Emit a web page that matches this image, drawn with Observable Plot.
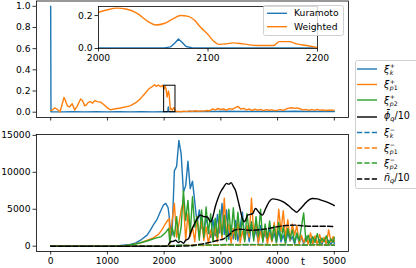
<!DOCTYPE html>
<html><head><meta charset="utf-8">
<script src="https://cdn.jsdelivr.net/npm/d3@7"></script>
<script src="https://cdn.jsdelivr.net/npm/@observablehq/plot@0.6"></script>
<style>
html,body{margin:0;padding:0;background:#fff;}
#chart{position:relative;width:416px;height:268px;overflow:hidden;font-family:"DejaVu Sans",sans-serif;color:#000;}
#chart svg{position:absolute;left:0;top:0;}
.legend{position:absolute;background:rgba(255,255,255,0.8);border:0.8px solid #d0d0d0;border-radius:2.5px;box-sizing:border-box;}
.lab{position:absolute;white-space:nowrap;font-size:9.2px;line-height:1;transform:translateY(-50%);}
.m{font-size:9.6px;}
.ss{display:inline-block;vertical-align:middle;font-size:6.2px;margin-left:0.5px;}
.ss span{display:block;line-height:1.05;}
.sb{font-size:6.6px;vertical-align:-2px;}
</style></head><body><div id="chart"></div><script>
// ---------- data ----------
const xTicks = [0, 1000, 2000, 3000, 4000, 5000];
const topYTicks = [0, 0.2, 0.4, 0.6, 0.8, 1.0];
const botYTicks = [0, 5000, 10000, 15000];
const insetXTicks = [2000, 2100, 2200];
const insetYTicks = [0, 0.2];
const insetBox = {x1: 2000, x2: 2200, y1: 0, y2: 0.25};
const topLegendLabels = ["Kuramoto", "Weighted"];

// top panel: Kuramoto
const kurT = [0,5,200,400,600,800,1000,1200,1400,1600,1800,2000,2060,2066,2070,2073,2076,2080,2086,2100,2300,2500,2700,2900,3100,3300,3500,3700,3900,4100,4300,4500,4700,4900,5000];
const kurV = [1.0,0.004,0.003,0.004,0.003,0.004,0.003,0.004,0.003,0.004,0.003,0.004,0.004,0.01,0.035,0.05,0.035,0.01,0.004,0.004,0.005,0.006,0.008,0.007,0.009,0.007,0.008,0.006,0.008,0.007,0.009,0.007,0.006,0.007,0.006];
// top panel: Weighted
const wPreT = [0,30,70,110,165,200,235,260,293,330,380,423,470,528,560,600,630,657,700,740,775,820,880,940,1000,1056,1120,1230,1400,1500,1585,1650,1730,1800,1830,1860,1900,1940,1970,2000,2017,2035,2052,2068,2075,2088,2100,2110,2123,2145,2165,2174,2190,2200];
const wPreV = [0.016,0.02,0.04,0.03,0.002,0.07,0.14,0.11,0.06,0.05,0.08,0.02,0.06,0.125,0.11,0.06,0.07,0.09,0.1,0.085,0.11,0.1,0.095,0.07,0.04,0.022,0.03,0.04,0.06,0.09,0.128,0.17,0.22,0.245,0.26,0.245,0.255,0.24,0.255,0.22,0.245,0.215,0.143,0.18,0.2,0.17,0.085,0.025,0.034,0.018,0.042,0.042,0.018,0.006];
const wNoiseT = d3.range(2250, 5001, 50);
const wNoiseV = [0.008,0.004,0.01,0.006,0.012,0.008,0.014,0.009,0.013,0.01,
0.016,0.012,0.03,0.022,0.035,0.025,0.03,0.02,0.034,0.028,
0.04,0.055,0.03,0.036,0.022,0.03,0.018,0.028,0.02,0.026,
0.015,0.024,0.018,0.022,0.015,0.02,0.024,0.018,0.03,0.038,
0.042,0.036,0.04,0.03,0.022,0.026,0.018,0.024,0.02,0.026,
0.018,0.022,0.016,0.02,0.018,0.02];

// inset
const insetWT = [2000,2008,2017,2025,2035,2045,2052,2060,2068,2075,2082,2088,2093,2100,2105,2110,2117,2123,2132,2145,2160,2165,2174,2181,2190,2198,2200];
const insetWV = [0.22,0.235,0.245,0.24,0.215,0.165,0.143,0.152,0.18,0.2,0.195,0.17,0.13,0.085,0.045,0.025,0.028,0.034,0.028,0.018,0.018,0.042,0.042,0.028,0.018,0.008,0.006];
const insetKT = [2000,2020,2040,2060,2066,2070,2073,2076,2080,2086,2110,2140,2170,2200];
const insetKV = [0.003,0.004,0.003,0.004,0.01,0.035,0.058,0.04,0.012,0.004,0.003,0.004,0.003,0.003];

// bottom panel
const burstT = d3.range(2100, 4981, 40).concat([5000]);
const kPlusPreT = [0,1000,1200,1400,1500,1600,1700,1760,1820,1880,1940,1990,2030,2070,2090];
const kPlusPreV = [0,0,60,250,450,900,1500,2200,3000,3700,4800,5600,5800,5200,4000];
const kPlusBurst = [3000,1500,10200,10800,14300,12500,7300,8200,11500,7800,
8800,6000,3100,4900,2600,1700,4000,2200,1200,3600,
1400,4300,1800,5800,1600,4900,900,2800,1000,3500,
700,2600,4600,900,2400,600,3000,1100,2200,500,
2800,800,1900,600,2400,700,1800,500,2100,600,
1500,400,1900,700,1300,300,1600,500,1200,300,
1400,400,1000,300,1100,400,900,200,1000,300,
800,200,900,400];
const p1PlusPreT = [0,1200,1400,1600,1800,1900,1960,2020,2060,2090];
const p1PlusPreV = [0,0,150,500,1100,1600,2200,3000,3500,3700];
const p1PlusBurst = [300,3500,5800,1200,3000,4900,6000,800,4400,1300,
2600,600,4000,1200,3500,800,2600,300,2200,800,
2600,600,3800,1000,6500,1500,3000,400,2400,1000,
3200,500,2000,800,2800,1200,6500,1500,3500,400,
2000,800,2600,300,1800,600,3200,900,5000,2000,
4800,1000,3600,800,3000,1500,2800,300,1500,500,
1200,300,1800,400,1400,200,1600,500,1200,300,
2200,600,1300,700];
const p2PlusPreT = [0,1100,1300,1500,1700,1850,1950,2030,2080];
const p2PlusPreV = [0,0,80,300,700,1100,1300,1900,2400];
const p2PlusBurst = [400,2600,1300,4000,800,2600,7500,3500,6200,1700,
6700,2600,4000,800,4900,1200,5300,1700,4400,600,
3800,1200,4900,1500,4200,700,5000,1400,5200,900,
4600,1300,3900,600,4400,1800,3300,700,4000,1300,
5000,500,3000,1100,3400,800,2800,500,3200,900,
2600,400,2400,1000,2200,500,1800,700,2600,4500,
600,1500,300,1300,500,1700,300,1100,600,1400,
300,1000,500,1200];
const phiT = [0,2000,2060,2110,2160,2200,2250,2290,2340,2380,2430,2470,2520,2580,2640,2700,2760,2820,2860,2900,2950,3000,3050,3100,3140,3180,3220,3260,3300,3340,3380,3410,3440,3470,3520,3560,3610,3670,3730,3790,3850,3910,4000,4100,4190,4280,4336,4380,4430,4500,4560,4620,4700,4780,4860,4950,5000];
const phiV = [0,0,50,600,650,800,500,650,400,800,1000,1900,2800,3700,4200,4000,3950,3300,4000,5300,6500,7400,8000,8500,8400,8600,8100,7500,6300,5000,3700,3300,3600,4200,4300,4400,5100,4600,4200,5100,6000,6400,6300,6000,5500,4900,4600,4900,5300,5900,6300,6450,6400,6200,6000,5700,5500];
const minusT = [0,1000,2000,2100,2300,2500,2700,2900,3100,3300,3500,3700,3900,4100,4300,4500,4700,4900,5000];
const kMinusV = [0,0,0,50,150,100,200,150,250,200,150,250,200,150,200,150,200,150,150];
const p1MinusV = [0,0,0,30,100,150,100,200,150,250,200,150,200,250,150,200,150,200,150];
const p2MinusV = [0,0,0,40,120,80,180,120,200,150,250,180,150,200,180,150,200,150,120];
const nT = [0,2000,2200,2450,2550,2700,2850,2950,3050,3150,3250,3350,3450,3550,3700,3850,4000,4150,4300,4450,4600,4800,5000];
const nV = [0,0,0,50,150,350,600,800,1000,1600,2200,2300,2200,2150,2250,2400,2650,2800,2850,2750,2700,2700,2650];

// ---------- build ----------
const blue = "#1f77b4", orange = "#ff7f0e", green = "#2ca02c";
const pairs = (T, V) => T.map((t, i) => ({t, v: V[i]})).filter(d => d.v != null);
const kuramoto = pairs(kurT, kurV);
const weighted = pairs(wPreT, wPreV).concat(pairs(wNoiseT, wNoiseV));
const insetW = pairs(insetWT, insetWV);
const insetK = pairs(insetKT, insetKV);
const kPlus = pairs(kPlusPreT, kPlusPreV).concat(pairs(burstT, kPlusBurst));
const p1Plus = pairs(p1PlusPreT, p1PlusPreV).concat(pairs(burstT, p1PlusBurst));
const p2Plus = pairs(p2PlusPreT, p2PlusPreV).concat(pairs(burstT, p2PlusBurst));
const phi = pairs(phiT, phiV);
const kMinus = pairs(minusT, kMinusV), p1Minus = pairs(minusT, p1MinusV), p2Minus = pairs(minusT, p2MinusV);
const nq = pairs(nT, nV);

const lw = 1.4, dash = "5.2,2.2";
const style = {fontFamily: "DejaVu Sans", fontSize: "9.2px", background: "none", color: "black", overflow: "visible"};
const axisOpts = {tickSize: 3.5, tickPadding: 2.5, label: null, strokeWidth: 0.8};
const fmt = d => String(d);
const chart = document.getElementById("chart");

const topPlot = Plot.plot({
  width: 416, height: 268, marginLeft: 36, marginRight: 68, marginTop: 0.5, marginBottom: 151,
  x: {domain: [-250, 5250]}, y: {domain: [-0.05, 1.05]}, style,
  marks: [
    Plot.line(kuramoto, {x: "t", y: "v", stroke: blue, strokeWidth: lw, clip: true}),
    Plot.line(weighted, {x: "t", y: "v", stroke: orange, strokeWidth: lw, clip: true}),
    Plot.rect([insetBox], {x1: "x1", x2: "x2", y1: "y1", y2: "y2", stroke: "black", fill: "none", strokeWidth: 1}),
    Plot.frame({stroke: "black", strokeWidth: 0.8}),
    Plot.axisY({...axisOpts, ticks: topYTicks, tickFormat: d => d.toFixed(1)}),
    Plot.axisX({...axisOpts, ticks: xTicks, tickFormat: () => ""})
  ]
});
chart.appendChild(topPlot);

const botPlot = Plot.plot({
  width: 416, height: 268, marginLeft: 36, marginRight: 68, marginTop: 134, marginBottom: 17,
  x: {domain: [-250, 5250]}, y: {domain: [-720, 15120]}, style,
  marks: [
    Plot.line(kPlus, {x: "t", y: "v", stroke: blue, strokeWidth: lw, clip: true}),
    Plot.line(p1Plus, {x: "t", y: "v", stroke: orange, strokeWidth: lw, clip: true}),
    Plot.line(p2Plus, {x: "t", y: "v", stroke: green, strokeWidth: lw, clip: true}),
    Plot.line(phi, {x: "t", y: "v", stroke: "black", strokeWidth: lw, curve: "monotone-x", clip: true}),
    Plot.line(kMinus, {x: "t", y: "v", stroke: blue, strokeWidth: lw, strokeDasharray: dash, clip: true}),
    Plot.line(p1Minus, {x: "t", y: "v", stroke: orange, strokeWidth: lw, strokeDasharray: dash, clip: true}),
    Plot.line(p2Minus, {x: "t", y: "v", stroke: green, strokeWidth: lw, strokeDasharray: dash, clip: true}),
    Plot.line(nq, {x: "t", y: "v", stroke: "black", strokeWidth: lw, strokeDasharray: dash, curve: "monotone-x", clip: true}),
    Plot.frame({stroke: "black", strokeWidth: 0.8}),
    Plot.axisY({...axisOpts, ticks: botYTicks, tickFormat: fmt}),
    Plot.axisX({...axisOpts, ticks: xTicks, tickFormat: fmt})
  ]
});
chart.appendChild(botPlot);

const insetPlot = Plot.plot({
  width: 416, height: 268, marginLeft: 98, marginRight: 99, marginTop: 6, marginBottom: 220,
  x: {domain: [2000, 2200]}, y: {domain: [0, 0.255]}, style,
  marks: [
    Plot.frame({fill: "white", stroke: "none"}),
    Plot.line(insetK, {x: "t", y: "v", stroke: blue, strokeWidth: lw, clip: true}),
    Plot.line(insetW, {x: "t", y: "v", stroke: orange, strokeWidth: lw, curve: "monotone-x", clip: true}),
    Plot.frame({stroke: "black", strokeWidth: 0.8}),
    Plot.axisY({...axisOpts, ticks: insetYTicks, tickFormat: d => d.toFixed(1)}),
    Plot.axisX({...axisOpts, ticks: insetXTicks, tickFormat: fmt})
  ]
});
chart.appendChild(insetPlot);

// ---------- legends ----------
function box(l, t, w, h) {
  const d = document.createElement("div");
  d.className = "legend";
  Object.assign(d.style, {left: l + "px", top: t + "px", width: w + "px", height: h + "px"});
  chart.appendChild(d);
}
box(263, 5, 80.5, 30.5);
box(355, 60, 70, 128.5);

const ns = "http://www.w3.org/2000/svg";
const over = document.createElementNS(ns, "svg");
over.setAttribute("width", 416); over.setAttribute("height", 268);
chart.appendChild(over);
function sample(x1, x2, y, color, dashed) {
  const ln = document.createElementNS(ns, "line");
  ln.setAttribute("x1", x1); ln.setAttribute("x2", x2);
  ln.setAttribute("y1", y); ln.setAttribute("y2", y);
  ln.setAttribute("stroke", color); ln.setAttribute("stroke-width", lw);
  if (dashed) ln.setAttribute("stroke-dasharray", dash);
  over.appendChild(ln);
}
function label(x, y, html) {
  const d = document.createElement("div");
  d.className = "lab";
  d.style.left = x + "px"; d.style.top = y + "px";
  d.innerHTML = html;
  chart.appendChild(d);
}
const topColors = [blue, orange];
topLegendLabels.forEach((s, i) => {
  const y = 13.3 + i * 13.4;
  sample(267, 287, y, topColors[i], false);
  label(294, y, s);
});

const xi = (sup, sub) => `<span class="m"><i>ξ</i><span class="ss"><span>${sup}</span><span>${sub}</span></span></span>`;
const rightLegend = [
  {html: xi("+", "<i>k</i>"), color: blue, dashed: false},
  {html: xi("+", "<i>p</i>1"), color: orange, dashed: false},
  {html: xi("+", "<i>p</i>2"), color: green, dashed: false},
  {html: `<span class="m"><i>ϕ̄</i><span class="sb"><i>q</i></span>/10</span>`, color: "black", dashed: false},
  {html: xi("−", "<i>k</i>"), color: blue, dashed: true},
  {html: xi("−", "<i>p</i>1"), color: orange, dashed: true},
  {html: xi("−", "<i>p</i>2"), color: green, dashed: true},
  {html: `<span class="m"><i>ñ</i><span class="sb"><i>q</i></span>/10</span>`, color: "black", dashed: true}
];
const rowY = [69, 84.5, 100, 117, 132.5, 148, 163, 179];
rightLegend.forEach((e, i) => {
  sample(357, 377, rowY[i], e.color, e.dashed);
  label(384, rowY[i], e.html);
});
label(301, 262, `<span style="font-size:10px">t</span>`);
</script></body></html>
